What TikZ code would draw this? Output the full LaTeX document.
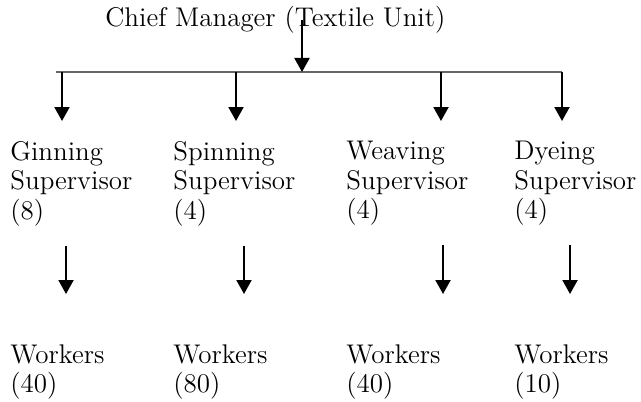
\documentclass[tikz,border=0pt]{standalone}
\usetikzlibrary{arrows.meta}
\begin{document}
\begin{tikzpicture}[x=0.5pt,y=-0.5pt,>={Triangle[length=7pt,width=7.5pt]},
    lbl/.style={anchor=north west,inner sep=0pt,align=left,font=\fontsize{13.5}{14.75}\selectfont},
    arr/.style={->,line width=1pt}]
    \useasboundingbox (0,0) rectangle (641,401);
    \node[lbl,anchor=base west] (chief) at (105,27) {Chief Manager (Textile Unit)};
    \coordinate (barL) at (56,72);
    \coordinate (barR) at (562,72);
    \coordinate (mid) at (302,72);
    \draw[line width=1pt,black!60] (barL)--(barR);
    \draw[arr] (mid |- chief.center)--(mid);
    % supervisors and their workers
    \foreach \n/\tx/\ax/\bx/\lab/\sup/\wrk in {gin/10/62/66/Ginning/8/40,spin/173/236/244/Spinning/4/80,
        weave/346/441/443/Weaving/4/40,dye/514/562/570/Dyeing/4/10}{
        \node[lbl] (\n) at (\tx,141) {\lab\\Supervisor\\(\sup)};
        \node[lbl] (w-\n) at (\tx,344) {Workers\\(\wrk)};
        \draw[arr,shorten >=10pt] (\ax,72)--(\n.north -| \ax,0);
        \draw[arr,shorten <=9.5pt,shorten >=25pt] (\n.south -| \bx,0)--(w-\n.north -| \bx,0);
    }
\end{tikzpicture}
\end{document}
